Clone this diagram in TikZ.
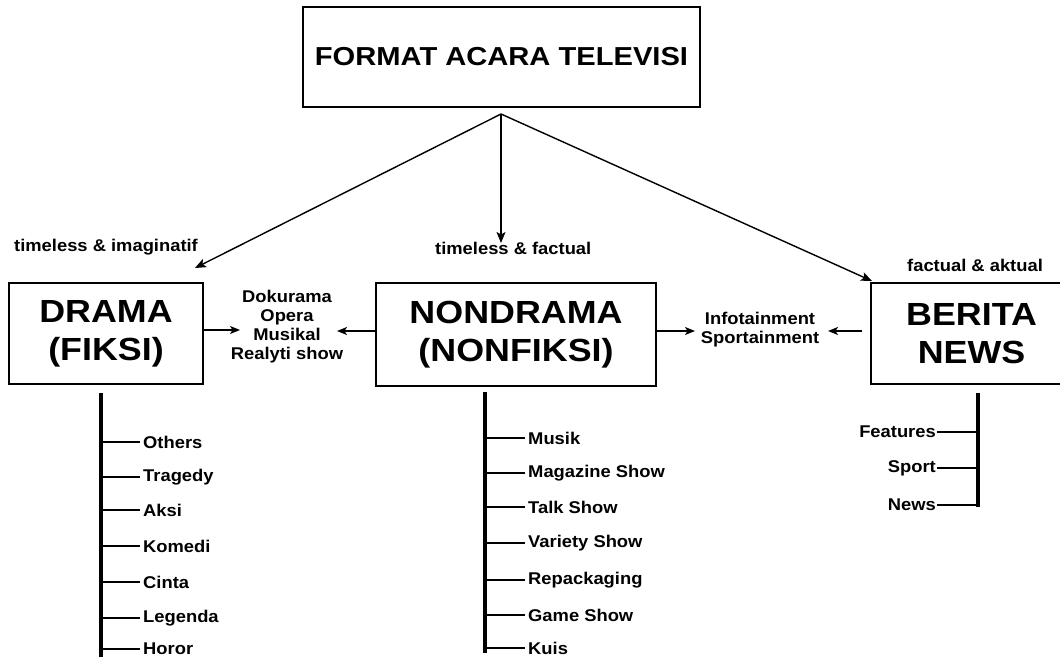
\documentclass[tikz,border=0pt]{standalone}
\usepackage{fontspec}
\setmainfont{Liberation Sans}[FakeStretch=1.12]
\newfontfamily\labelfont{Liberation Sans}[FakeStretch=1.08]
\usetikzlibrary{arrows.meta}

\tikzset{
  box/.style={draw, line width=1.5pt, inner sep=0pt, align=center},
  big/.style={font=\bfseries\fontsize{32}{38}\selectfont},
  small/.style={font=\labelfont\bfseries\fontsize{17}{19}\selectfont, inner sep=0pt},
  fanline/.style={line width=1.4pt, -{Stealth[length=11pt,width=9pt,inset=2.5pt]}},
  sidearrow/.style={line width=1.4pt, -{Stealth[length=10pt,width=8pt,inset=2.5pt]}},
  trunk/.style={line width=3.2pt},
  twig/.style={line width=2.8pt},
}

\begin{document}
\begin{tikzpicture}[x=1pt,y=-1pt]
\useasboundingbox (0,0) rectangle (1060,658);

% main boxes
\node[box, minimum width=397pt, minimum height=100pt,
      font=\bfseries\fontsize{26}{30}\selectfont] (format) at (501.5,57) {FORMAT ACARA TELEVISI};
\node[box, big, minimum width=194pt, minimum height=101pt] (drama) at (106,333.5) {DRAMA\\(FIKSI)};
\node[box, big, minimum width=280pt, minimum height=103pt] (nondrama) at (516,334.5) {NONDRAMA\\(NONFIKSI)};
\node[box, big, minimum width=201pt, minimum height=101pt] (berita) at (971.5,333.5) {BERITA\\NEWS};

% branching from the title box
\coordinate (fan) at (501,114);
\coordinate (tipL) at (195,268);
\coordinate (tipM) at (501,243);
\coordinate (tipR) at (872,281);
\draw[fanline] (fan) -- (tipL);
\draw[fanline] (fan) -- (tipM);
\draw[fanline] (fan) -- (tipR);

% characteristic labels
\node[small, anchor=west] (lblL) at (14,247) {timeless \& imaginatif};
\node[small, anchor=west] (lblM) at (435,248) {timeless \& factual};
\node[small, anchor=west] (lblR) at (907,265) {factual \& aktual};

% mixed formats between the boxes
\node[small, align=center] (mixL) at (287,326.5) {Dokurama\\Opera\\Musikal\\Realyti show};
\node[small, align=center] (mixR) at (760,329.5) {Infotainment\\Sportainment};

\draw[sidearrow] (drama.east |- 0,330) -- (240,330);
\draw[sidearrow] (nondrama.west |- 0,331) -- (337,331);
\draw[sidearrow] (nondrama.east |- 0,331) -- (695,331);
\draw[sidearrow] ([xshift=-8pt]berita.west |- 0,331) -- (828,331);

% drama subtypes
\coordinate (dTop) at (101,393);
\coordinate (dBot) at (101,657);
\draw[trunk] (dTop) -- (dBot);
\foreach \n/\y/\t in {d1/442/Others, d2/477/Tragedy, d3/510/Aksi, d4/546/Komedi,
                      d5/582/Cinta, d6/618/Legenda, d7/649/Horor}{
  \node[small, anchor=west] (\n) at (143,\y) {\t};
  \draw[twig] ([xshift=-3pt]\n.west) -- (\n.west -| dTop);
}

% nondrama subtypes
\coordinate (nTop) at (485,392);
\coordinate (nBot) at (485,653);
\draw[trunk] (nTop) -- (nBot);
\foreach \n/\y/\t in {n1/438/Musik, n2/473/Magazine Show, n3/507/Talk Show, n4/543/Variety Show,
                      n5/580/Repackaging, n6/615/Game Show, n7/648/Kuis}{
  \node[small, anchor=west] (\n) at (528,\y) {\t};
  \draw[twig] ([xshift=-3pt]\n.west) -- (\n.west -| nTop);
}

% news subtypes
\coordinate (bTop) at (978,393);
\coordinate (bBot) at (978,507);
\draw[trunk] (bTop) -- (bBot);
\foreach \n/\y/\t in {b1/432/Features, b2/468/Sport, b3/505/News}{
  \node[small, anchor=east] (\n) at (936,\y) {\t};
  \draw[twig] ([xshift=1pt]\n.east) -- (\n.east -| bTop);
}
\end{tikzpicture}
\end{document}
